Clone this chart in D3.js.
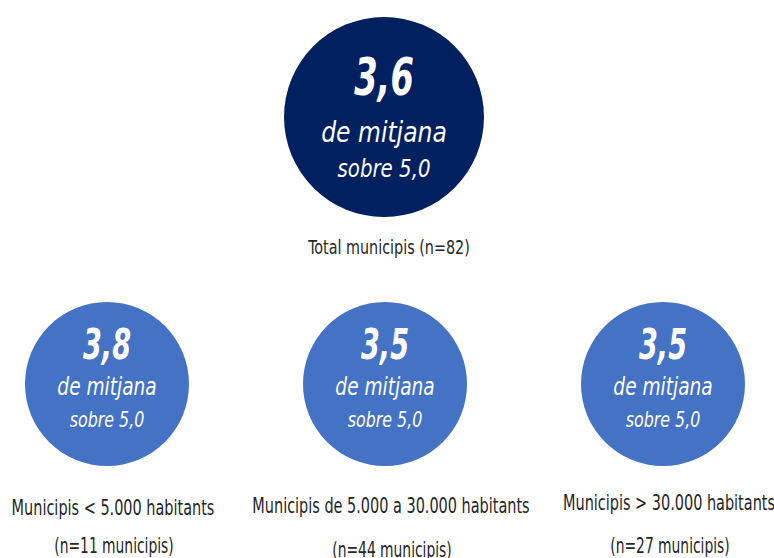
<!DOCTYPE html>
<html>
<head>
<meta charset="utf-8">
<title>Mitjana municipis</title>
<script src="https://cdnjs.cloudflare.com/ajax/libs/d3/7.8.5/d3.min.js"></script>
<style>
body { margin: 0; background: #fff; }
svg text { font-family: "DejaVu Sans Condensed", "DejaVu Sans", sans-serif; }
.big { fill: #fff; font-weight: bold; font-style: italic; text-anchor: middle; }
.sub { fill: #fff; font-style: italic; text-anchor: middle; }
.label { fill: #262626; text-anchor: middle; }
</style>
</head>
<body>
<svg width="774" height="558"></svg>
<script>
// total
var totalValue = 3.6;
var totalN = 82;
var totalLabel = "Total municipis";

// per size group
var groups = ["Municipis < 5.000 habitants", "Municipis de 5.000 a 30.000 habitants", "Municipis > 30.000 habitants"];
var groupValues = [3.8, 3.5, 3.5];
var groupN = [11, 44, 27];

var scaleMax = 5.0;
var fmt = function(v) { return d3.format(".1f")(v).replace(".", ","); };

// the original font is a narrow one, so squeeze the text horizontally
function squeeze(sel, k) {
  sel.each(function() {
    var w = this.getComputedTextLength();
    d3.select(this).attr("textLength", w * k).attr("lengthAdjust", "spacingAndGlyphs");
  });
}

var svg = d3.select("svg");

var x = d3.scalePoint()
  .domain(groups)
  .range([107, 663]);

// top circle
var tot = svg.append("g").attr("transform", "translate(384,117)");
tot.append("circle").attr("r", 100).attr("fill", "#002060");
tot.append("text").attr("class", "big").attr("y", -22).attr("font-size", 52)
  .text(fmt(totalValue)).call(squeeze, 0.72);
tot.append("text").attr("class", "sub").attr("y", 25).attr("font-size", 29)
  .text("de mitjana").call(squeeze, 0.9);
tot.append("text").attr("class", "sub").attr("y", 60).attr("font-size", 25)
  .text("sobre " + fmt(scaleMax)).call(squeeze, 0.88);
svg.append("text").attr("class", "label")
  .attr("x", 389).attr("y", 254).attr("font-size", 19)
  .text(totalLabel + " (n=" + totalN + ")").call(squeeze, 0.84);

// bottom circles
var data = groups.map(function(g, i) { return { name: g, value: groupValues[i], n: groupN[i] }; });

var g = svg.selectAll(".grp")
  .data(data)
  .enter()
  .append("g")
    .attr("class", "grp")
    .attr("transform", function(d) { return "translate(" + x(d.name) + ",384)"; });

g.append("circle").attr("r", 82).attr("fill", "#4472C4");
g.append("text").attr("class", "big").attr("y", -25).attr("font-size", 43)
  .text(function(d) { return fmt(d.value); }).call(squeeze, 0.7);
g.append("text").attr("class", "sub").attr("y", 11).attr("font-size", 24)
  .text("de mitjana").call(squeeze, 0.86);
g.append("text").attr("class", "sub").attr("y", 43).attr("font-size", 21)
  .text("sobre " + fmt(scaleMax)).call(squeeze, 0.84);

var lineY = [515, 513, 510];
var line2Y = [553, 557, 553];
g.append("text").attr("class", "label")
  .attr("x", 6)
  .attr("y", function(d, i) { return lineY[i] - 384; })
  .attr("font-size", 22)
  .text(function(d) { return d.name; }).call(squeeze, 0.73);
g.append("text").attr("class", "label")
  .attr("x", 7)
  .attr("y", function(d, i) { return line2Y[i] - 384; })
  .attr("font-size", 22)
  .text(function(d) { return "(n=" + d.n + " municipis)"; }).call(squeeze, 0.7);
</script>
</body>
</html>
